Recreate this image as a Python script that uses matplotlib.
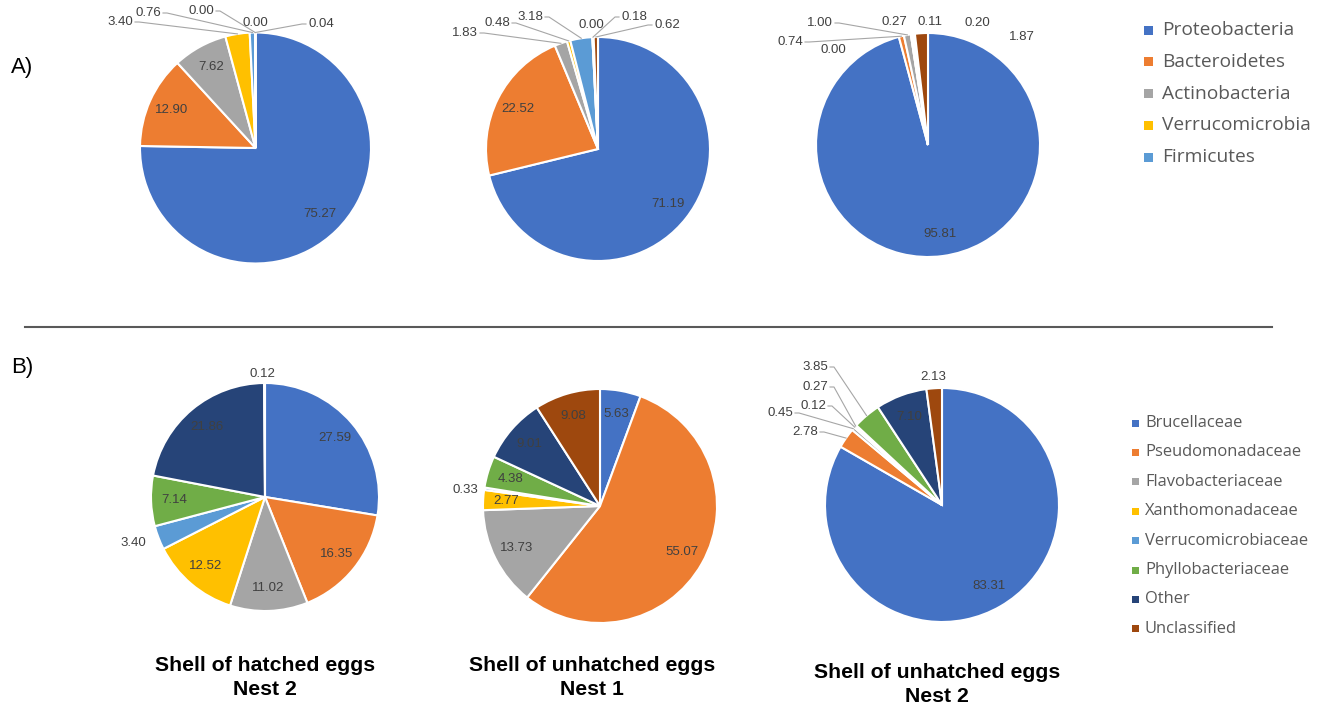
import numpy as np
import matplotlib.pyplot as plt
from matplotlib.patches import Rectangle

W, H = 1325, 707

# relative abundance (%) per sample, phylum level
phylum_names = ['Proteobacteria', 'Bacteroidetes', 'Actinobacteria',
                'Verrucomicrobia', 'Firmicutes']
hatched_n2_phylum = [75.27, 12.90, 7.62, 3.40, 0.76, 0.00, 0.00, 0.04]
unhatched_n1_phylum = [71.19, 22.52, 1.83, 0.48, 3.18, 0.00, 0.18, 0.62]
unhatched_n2_phylum = [95.81, 0.74, 1.00, 0.00, 0.27, 0.11, 0.20, 1.87]

# family level
family_names = ['Brucellaceae', 'Pseudomonadaceae', 'Flavobacteriaceae',
                'Xanthomonadaceae', 'Verrucomicrobiaceae', 'Phyllobacteriaceae',
                'Other', 'Unclassified']
hatched_n2_family = [27.59, 16.35, 11.02, 12.52, 3.40, 7.14, 21.86, 0.12]
unhatched_n1_family = [5.63, 55.07, 13.73, 2.77, 0.33, 4.38, 9.01, 9.08]
unhatched_n2_family = [83.31, 2.78, 0.45, 0.12, 0.27, 3.85, 7.10, 2.13]

sample_titles = ['Shell of hatched eggs\nNest 2',
                 'Shell of unhatched eggs\nNest 1',
                 'Shell of unhatched eggs\nNest 2']

colors = ['#4472C4', '#ED7D31', '#A5A5A5', '#FFC000',
          '#5B9BD5', '#70AD47', '#264478', '#9E480E']

LABEL_FONT = 'Liberation Sans'
LEGEND_FONT = 'Open Sans'
LABEL_COLOR = '#404040'
LINE_COLOR = '#A6A6A6'
LABEL_SIZE = 9.5

fig = plt.figure(figsize=(W / 100, H / 100), dpi=100)
ax = fig.add_axes([0, 0, 1, 1])


def px(x, y):
    # pixel position measured from the top-left corner -> data coords
    return x, H - y


def draw_pie(values, cx, cy, r, outside):
    wedges, _ = ax.pie(values, colors=colors, startangle=90, counterclock=False,
                       center=px(cx, cy), radius=r,
                       wedgeprops=dict(edgecolor='white', linewidth=1.5))
    for i, (w, v) in enumerate(zip(wedges, values)):
        mid = np.deg2rad((w.theta1 + w.theta2) / 2)
        x0, y0 = w.center
        txt = f'{v:.2f}'
        if i in outside:
            tx, ty, side = outside[i]
            tx, ty = px(tx, ty)
            ax.text(tx, ty, txt, ha='center', va='center', fontsize=LABEL_SIZE,
                    family=LABEL_FONT, color=LABEL_COLOR)
            if side:
                sgn = 1 if side == 'r' else -1
                sx = tx + sgn * 15
                ax_, ay_ = x0 + r * np.cos(mid), y0 + r * np.sin(mid)
                ax.plot([sx, sx + sgn * 4, ax_], [ty, ty, ay_],
                        color=LINE_COLOR, lw=0.8)
        else:
            ax.text(x0 + 0.8 * r * np.cos(mid), y0 + 0.8 * r * np.sin(mid), txt,
                    ha='center', va='center', fontsize=LABEL_SIZE,
                    family=LABEL_FONT, color=LABEL_COLOR)


# A) phylum level
draw_pie(hatched_n2_phylum, 255.5, 148, 115.5,
         {3: (120, 22, 'r'), 4: (148, 13, 'r'), 5: (201, 11, 'r'),
          6: (255, 23, None), 7: (321, 24, 'l')})
draw_pie(unhatched_n1_phylum, 598, 149, 112,
         {2: (465, 33, 'r'), 3: (497, 23, 'r'), 4: (530, 17, 'r'),
          5: (591, 25, None), 6: (634, 17, 'l'), 7: (667, 25, 'l')})
draw_pie(unhatched_n2_phylum, 928, 145, 112,
         {1: (790, 42, 'r'), 2: (820, 23, 'r'), 3: (833, 50, None),
          4: (894, 22, None), 5: (930, 22, None), 6: (977, 23, None),
          7: (1022, 37, None)})

# B) family level
draw_pie(hatched_n2_family, 265, 497, 114,
         {4: (133, 543, None), 7: (262, 374, None)})
draw_pie(unhatched_n1_family, 600, 506, 117,
         {4: (465, 490, None)})
draw_pie(unhatched_n2_family, 942, 505, 117,
         {1: (805, 432, 'r'), 2: (780, 413, 'r'), 3: (813, 406, 'r'),
          4: (815, 387, 'r'), 5: (815, 367, 'r'), 7: (933, 377, None)})

# legends
for k, name in enumerate(phylum_names):
    y = 30 + k * 31.8
    ax.add_patch(Rectangle(px(1144, y + 4.5), 9, 9, color=colors[k], lw=0))
    ax.text(*px(1162, y), name, ha='left', va='center', fontsize=13.8,
            family=LEGEND_FONT, color='#595959')
for k, name in enumerate(family_names):
    y = 423 + k * 29.4
    ax.add_patch(Rectangle(px(1132, y + 3.5), 7, 7, color=colors[k], lw=0))
    ax.text(*px(1145, y), name, ha='left', va='center', fontsize=11.9,
            family=LEGEND_FONT, color='#595959')

# panel letters, divider and titles
ax.text(*px(11, 68), 'A)', ha='left', va='center', fontsize=16,
        family=LABEL_FONT, color='black')
ax.text(*px(11, 368), 'B)', ha='left', va='center', fontsize=16,
        family=LABEL_FONT, color='black')
ax.plot([25, 1272], [H - 327, H - 327], color='#595959', lw=1.5)

for (x, y), title in zip([(265, 677.5), (592, 677.5), (937, 684.5)], sample_titles):
    ax.text(*px(x, y), title, ha='center', va='center', fontsize=15.3,
            fontweight='bold', family=LABEL_FONT, color='black',
            linespacing=1.35)

ax.set_xlim(0, W)
ax.set_ylim(0, H)
ax.set_aspect('auto')
ax.axis('off')

fig.savefig('out.png', dpi=100, facecolor='white')
